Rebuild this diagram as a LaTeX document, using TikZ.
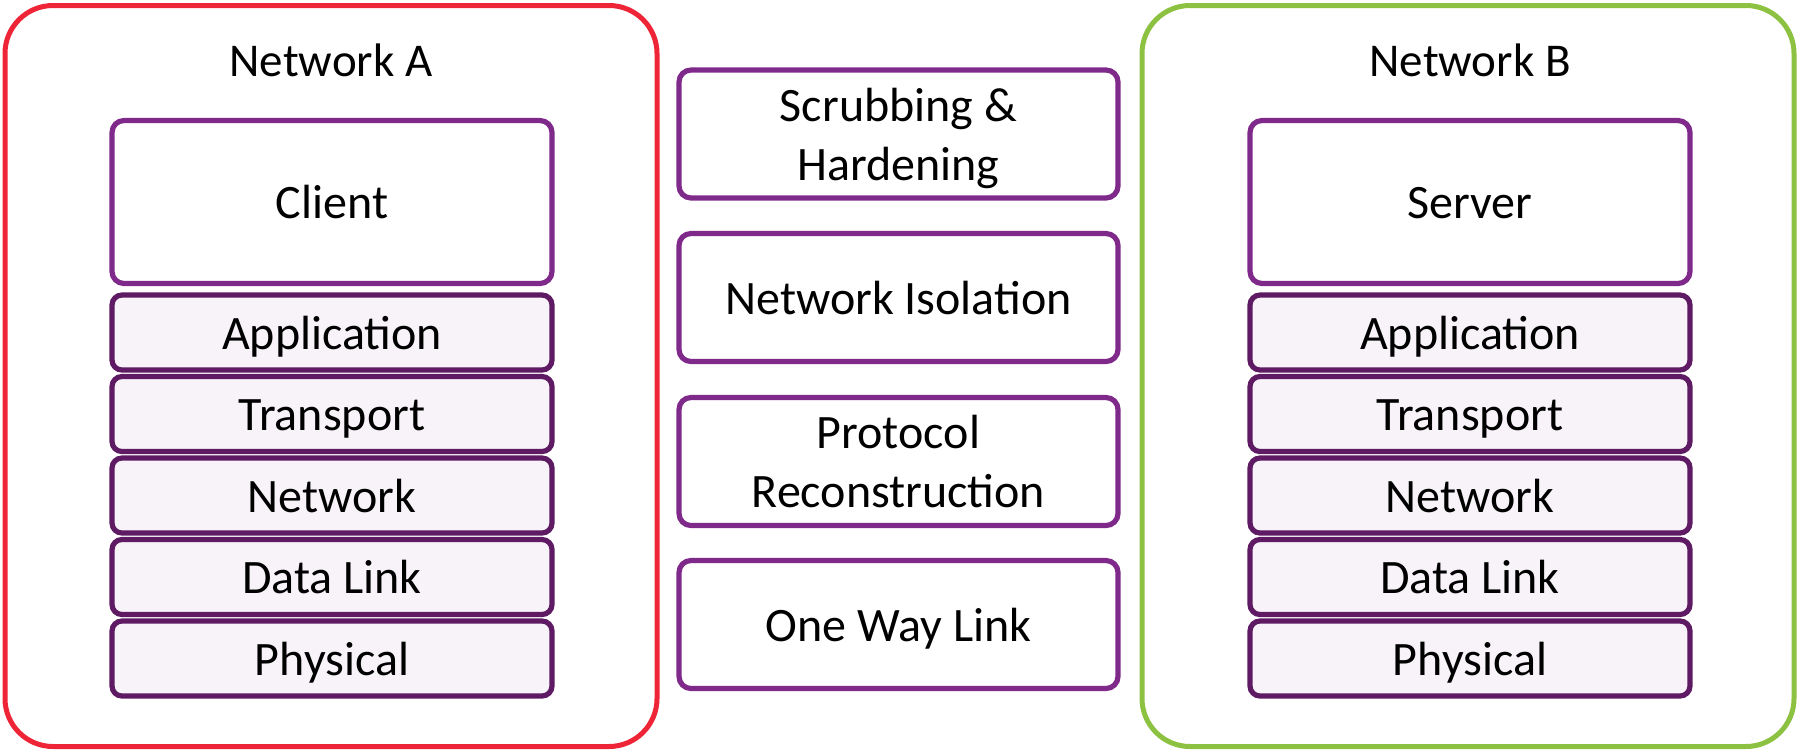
\documentclass[tikz,border=0pt]{standalone}
\usepackage{fontspec}
\setmainfont{Carlito}
\definecolor{netred}{HTML}{EE2536}
\definecolor{netgreen}{HTML}{8DC141}
\definecolor{hostpurple}{HTML}{7F2A8B}
\definecolor{layerpurple}{HTML}{5E1A63}
\definecolor{layerfill}{HTML}{F7F3F9}
% label text, with its box trimmed to the ascenders so the caps sit centred
\newcommand{\boxfont}{\fontsize{24}{29.5}\selectfont}
\newcommand{\lastline}[1]{\raisebox{0pt}[\height][0pt]{#1}}
\tikzset{
  oneline/.style={text height=16.8pt, text depth=0pt},
  netbox/.style={draw, line width=2.5pt, rounded corners=24pt, minimum width=326pt, minimum height=370.5pt, inner sep=0pt},
  nettitle/.style={inner sep=0pt, font=\fontsize{23.5}{28}\selectfont},
  hostbox/.style={oneline, draw=hostpurple, fill=white, line width=2.6pt, rounded corners=6pt, minimum width=220pt, minimum height=81.5pt, inner sep=0pt, font=\boxfont},
  layerbox/.style={oneline, draw=layerpurple, fill=layerfill, line width=2.6pt, rounded corners=5pt, minimum width=220pt, minimum height=37.5pt, inner sep=0pt, font=\boxfont},
  guardbox/.style={draw=hostpurple, fill=white, line width=2.6pt, rounded corners=6pt, minimum width=219.5pt, minimum height=64pt, inner sep=0pt, align=center, font=\boxfont},
}
\begin{document}
\begin{tikzpicture}[x=0.5pt,y=-0.5pt]
  \useasboundingbox (0,0) rectangle (1798,750);

  % the two enclaves
  \node[netbox, draw=netred]   (netA) at (331,376) {};
  \node[netbox, draw=netgreen] (netB) at (1468,376) {};
  \node[nettitle] (titleA) at (331,60) {Network A};
  \node[nettitle] (titleB) at (1470,60) {Network B};

  % client side stack
  \node[hostbox]  (client) at (332,202)   {Client};
  \node[layerbox] (appA)   at (332,332.5) {Application};
  \node[layerbox] (trA)    at (332,414)   {Transport};
  \node[layerbox] (nwA)    at (332,495.5) {Network};
  \node[layerbox] (dlA)    at (332,577)   {Data Link};
  \node[layerbox] (phA)    at (332,658.5) {Physical};

  % server side stack
  \node[hostbox]  (server) at (1470,202)   {Server};
  \node[layerbox] (appB)   at (1470,332.5) {Application};
  \node[layerbox] (trB)    at (1470,414)   {Transport};
  \node[layerbox] (nwB)    at (1470,495.5) {Network};
  \node[layerbox] (dlB)    at (1470,577)   {Data Link};
  \node[layerbox] (phB)    at (1470,658.5) {Physical};

  % cross-domain functions
  \node[guardbox] (scrub)   at (898.5,134)   {Scrubbing \&\\\lastline{Hardening}};
  \node[guardbox, oneline] (isolate) at (898.5,297.5) {Network Isolation};
  \node[guardbox] (rebuild) at (898.5,461.5) {Protocol\\\lastline{Reconstruction}};
  \node[guardbox, oneline] (oneway)  at (898.5,624.5) {One Way Link};
\end{tikzpicture}
\end{document}
